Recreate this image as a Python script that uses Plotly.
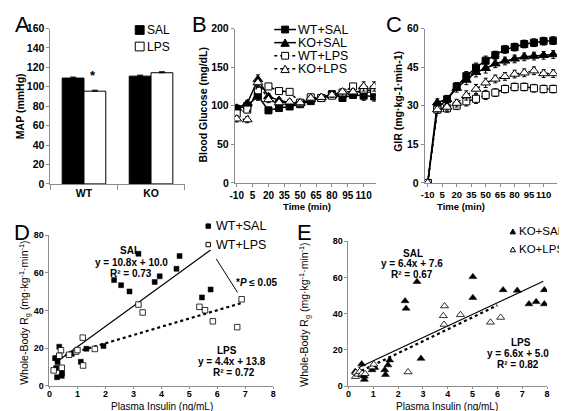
import plotly.graph_objects as go

W, H = 567, 411
FONT = "Liberation Sans"

# ---------------- Panel A : MAP ----------------
map_groups = ["WT", "KO"]
map_sal = [109.0, 111.0]
map_lps = [95.5, 114.5]
map_sal_err = [1.0, 1.0]
map_lps_err = [1.0, 1.0]

# ---------------- Panels B / C : time course ----------------
time_min = [-10, 0, 10, 20, 30, 40, 50, 60, 70, 80, 90, 100, 110, 120]
time_ticks = [-10, 5, 20, 35, 50, 65, 80, 95, 110]
time_ticktext = ["-10", "5", "20", "35", "50", "65", "80", "95", "110"]

bg_wt_sal = [96, 100, 113, 94, 97, 99, 102, 106, 110, 115, 110, 114, 113, 112]
bg_ko_sal = [97, 103, 134, 112, 107, 104, 103, 108, 111, 113, 115, 117, 120, 120]
bg_wt_lps = [90, 95, 120, 125, 119, 118, 104, 111, 110, 113, 117, 125, 121, 120]
bg_ko_lps = [83, 82, 130, 108, 104, 105, 104, 110, 111, 114, 118, 118, 125, 125]
bg_err = [4, 4, 6, 4, 3, 3, 3, 3, 3, 3, 4, 4, 6, 6]

gir_wt_sal = [0, 29.0, 32.5, 37.5, 41.5, 44.8, 47.5, 49.7, 51.9, 52.8, 54.0, 54.5, 55.1, 55.3]
gir_ko_sal = [0, 31.2, 32.5, 36.8, 40.0, 43.0, 44.5, 46.3, 47.4, 48.2, 49.0, 49.3, 49.6, 49.9]
gir_wt_lps = [0, 28.5, 29.0, 30.0, 31.7, 32.7, 34.2, 35.1, 36.5, 37.3, 37.3, 36.8, 36.5, 36.5]
gir_ko_lps = [0, 28.5, 29.5, 31.0, 34.0, 36.5, 38.9, 40.4, 41.4, 42.3, 42.8, 43.6, 42.5, 42.5]
gir_err = [0, 1.5, 1.5, 1.5, 1.8, 1.8, 1.8, 1.5, 1.5, 1.5, 1.5, 1.5, 1.5, 1.5]

# ---------------- Panel D : WT Rg vs insulin ----------------
d_wt_sal_x = [0.35, 0.20, 0.29, 0.27, 0.24, 0.27, 0.45, 0.44, 0.80, 1.12, 1.32, 1.93,
              2.31, 2.56, 2.86, 3.18, 3.76, 3.94, 4.54, 4.65, 5.45, 5.76]
d_wt_sal_y = [20.8, 14.7, 12.6, 14.8, 9.5, 4.6, 6.7, 5.3, 17.0, 12.8, 19.7, 21.2,
              56.2, 53.5, 50.2, 70.2, 55.2, 58.2, 62.2, 69.0, 47.0, 51.2]
d_wt_lps_x = [0.15, 0.41, 0.44, 0.35, 0.70, 0.95, 1.00, 1.19, 1.20, 1.62,
              3.18, 3.33, 5.36, 5.56, 5.84, 6.71, 6.87]
d_wt_lps_y = [8.2, 18.9, 9.6, 16.0, 16.5, 18.2, 19.0, 25.6, 10.8, 19.6,
              43.2, 39.0, 42.0, 40.2, 34.3, 31.2, 46.0]
d_sal_fit = [10.8, 10.0]      # slope, intercept
d_sal_fit_x = [0.2, 5.76]
d_lps_fit = [4.4, 13.8]
d_lps_fit_x = [0.15, 6.87]

# ---------------- Panel E : KO Rg vs insulin ----------------
e_ko_sal_x = [0.27, 0.40, 0.53, 0.64, 0.64, 0.95, 1.00, 1.06, 1.46, 1.49, 1.59, 1.66,
              2.28, 2.32, 2.76, 2.92, 5.01, 5.01, 6.23, 6.80, 7.27, 7.56, 7.89, 7.89]
e_ko_sal_y = [8.0, 6.3, 12.2, 5.4, 3.6, 8.9, 10.7, 10.2, 8.9, 6.3, 11.6, 14.3,
              47.0, 42.9, 57.6, 15.2, 60.3, 48.8, 53.1, 52.8, 45.3, 46.5, 45.3, 53.1]
e_ko_lps_x = [0.28, 0.30, 0.38, 0.45, 0.55, 0.67, 0.95, 1.02, 2.40,
              3.82, 3.85, 3.87, 4.51, 5.72, 6.13]
e_ko_lps_y = [5.2, 7.5, 6.5, 8.0, 7.0, 6.8, 10.5, 12.0, 7.8,
              38.8, 34.0, 44.2, 39.4, 35.2, 37.9]
e_sal_fit = [6.4, 7.6]
e_sal_fit_x = [0.4, 7.85]
e_lps_fit = [6.6, 5.0]
e_lps_fit_x = [0.3, 6.0]


def fx(p):
    return p / W


def fy(p):
    return 1 - p / H


fig = go.Figure()

# ---- A bars
fig.add_trace(go.Bar(x=map_groups, y=map_sal, name="SAL", xaxis="x", yaxis="y",
                     marker=dict(color="black", line=dict(color="black", width=1)),
                     error_y=dict(type="data", array=map_sal_err, arrayminus=[0, 0], symmetric=False,
                                  color="black", thickness=1, width=3)))
fig.add_trace(go.Bar(x=map_groups, y=map_lps, name="LPS", xaxis="x", yaxis="y",
                     marker=dict(color="white", line=dict(color="black", width=1)),
                     error_y=dict(type="data", array=map_lps_err, arrayminus=[0, 0], symmetric=False,
                                  color="black", thickness=1, width=3)))

# ---- B / C lines
series = [
    ("WT+SAL", bg_wt_sal, gir_wt_sal, "square", "black", "solid"),
    ("KO+SAL", bg_ko_sal, gir_ko_sal, "triangle-up", "black", "solid"),
    ("WT+LPS", bg_wt_lps, gir_wt_lps, "square", "white", "dot"),
    ("KO+LPS", bg_ko_lps, gir_ko_lps, "triangle-up", "white", "dot"),
]
for name, bg, gir, sym, fill, dash in series:
    msize = 7 if sym == "square" else 8.5
    fig.add_trace(go.Scatter(x=time_min, y=bg, mode="lines+markers", name=name, xaxis="x2", yaxis="y2",
                             line=dict(color="black", width=1.5, dash=dash),
                             marker=dict(symbol=sym, size=msize, color=fill, line=dict(color="black", width=1)),
                             error_y=dict(type="data", array=bg_err, color="black", thickness=1, width=2)))
    fig.add_trace(go.Scatter(x=time_min, y=gir, mode="lines+markers", name=name, xaxis="x3", yaxis="y3",
                             line=dict(color="black", width=1.5, dash=dash),
                             marker=dict(symbol=sym, size=msize, color=fill, line=dict(color="black", width=1)),
                             error_y=dict(type="data", array=gir_err, color="black", thickness=1, width=2)))

# ---- D
fig.add_trace(go.Scatter(x=d_sal_fit_x, y=[d_sal_fit[0] * v + d_sal_fit[1] for v in d_sal_fit_x],
                         mode="lines", xaxis="x4", yaxis="y4", line=dict(color="black", width=1.2)))
fig.add_trace(go.Scatter(x=d_lps_fit_x, y=[d_lps_fit[0] * v + d_lps_fit[1] for v in d_lps_fit_x],
                         mode="lines", xaxis="x4", yaxis="y4", line=dict(color="black", width=2.2, dash="dot")))
fig.add_trace(go.Scatter(x=d_wt_sal_x, y=d_wt_sal_y, mode="markers", xaxis="x4", yaxis="y4",
                         marker=dict(symbol="square", size=5, color="black", line=dict(color="black", width=0.5))))
fig.add_trace(go.Scatter(x=d_wt_lps_x, y=d_wt_lps_y, mode="markers", xaxis="x4", yaxis="y4",
                         marker=dict(symbol="square", size=5.5, color="white", line=dict(color="black", width=0.8))))

# ---- E
fig.add_trace(go.Scatter(x=e_sal_fit_x, y=[e_sal_fit[0] * v + e_sal_fit[1] for v in e_sal_fit_x],
                         mode="lines", xaxis="x5", yaxis="y5", line=dict(color="black", width=1.2)))
fig.add_trace(go.Scatter(x=e_lps_fit_x, y=[e_lps_fit[0] * v + e_lps_fit[1] for v in e_lps_fit_x],
                         mode="lines", xaxis="x5", yaxis="y5", line=dict(color="black", width=2.2, dash="dot")))
fig.add_trace(go.Scatter(x=e_ko_sal_x, y=e_ko_sal_y, mode="markers", xaxis="x5", yaxis="y5",
                         marker=dict(symbol="triangle-up", size=7, color="black", line=dict(color="black", width=0.5))))
fig.add_trace(go.Scatter(x=e_ko_lps_x, y=e_ko_lps_y, mode="markers", xaxis="x5", yaxis="y5",
                         marker=dict(symbol="triangle-up", size=7, color="white", line=dict(color="black", width=0.8))))

AXC = "#8c8c8c"


def tf(size):
    return dict(family=FONT, size=size, color="black", weight="bold")


def axis(**kw):
    d = dict(showline=True, linecolor=AXC, linewidth=1, ticks="outside", tickcolor=AXC, ticklen=4,
             showgrid=False, zeroline=False, tickangle=0, tickfont=tf(10.5))
    d.update(kw)
    return d


layout = dict(
    width=W, height=H, margin=dict(l=0, r=0, t=0, b=0), showlegend=False,
    paper_bgcolor="white", plot_bgcolor="white", barmode="group", bargap=0.35, bargroupgap=0,
    font=dict(family=FONT, color="black"),
    xaxis=axis(domain=[fx(38), fx(174)], anchor="y", type="category", tickson="boundaries", ticklen=5),
    yaxis=axis(domain=[fy(175), fy(15)], anchor="x", range=[0, 160], dtick=20, ticklen=3),
    xaxis2=axis(domain=[fx(225), fx(368)], anchor="y2", range=[-11.8, 121.5], tickvals=time_ticks,
                ticktext=time_ticktext, ticklen=3, tickfont=tf(10)),
    yaxis2=axis(domain=[fy(174), fy(15)], anchor="x2", range=[0, 200], dtick=50, ticklen=3),
    xaxis3=axis(domain=[fx(417.7), fx(551.7)], anchor="y3", range=[-13, 123.8], tickvals=time_ticks,
                ticktext=time_ticktext, ticklen=3, tickfont=tf(9.5)),
    yaxis3=axis(domain=[fy(174), fy(15)], anchor="x3", range=[0, 60], dtick=15, ticklen=3),
    xaxis4=axis(domain=[fx(37), fx(264)], anchor="y4", range=[0, 8], dtick=1, ticklen=2, tickfont=tf(9),
                ticklabelstandoff=-3),
    yaxis4=axis(domain=[fy(383), fy(228)], anchor="x4", range=[0, 80], dtick=20, ticklen=3, tickfont=tf(9)),
    xaxis5=axis(domain=[fx(340.3), fx(541.7)], anchor="y5", range=[0, 8], dtick=1, ticklen=2, tickfont=tf(9),
                ticklabelstandoff=-3),
    yaxis5=axis(domain=[fy(383.3), fy(234)], anchor="x5", range=[0, 80], dtick=20, ticklen=3, tickfont=tf(9)),
)

ann = []


def text(px, py, s, size=10.5, bold=False, xanchor="center", angle=0):
    ann.append(dict(x=fx(px), y=fy(py), xref="paper", yref="paper", text=s, showarrow=False,
                    xanchor=xanchor, yanchor="middle", textangle=angle, borderpad=0,
                    font=dict(family=FONT, size=size, color="black", weight="bold" if bold else "normal")))


# panel letters
text(1, 11, "A", size=22, xanchor="left")
text(181, 11, "B", size=22, xanchor="left")
text(377, 11, "C", size=22, xanchor="left")
text(0, 225, "D", size=22, xanchor="left")
text(287, 225, "E", size=22, xanchor="left")

# axis titles
text(7, 95, "MAP (mmHg)", bold=True, angle=-90)
text(193, 93, "Blood Glucose (mg/dL)", bold=True, angle=-90)
text(391, 90, "GIR (mg·kg-1·min-1)", bold=True, angle=-90)
text(298, 198, "Time (min)", size=9.5, bold=True)
text(454, 198, "Time (min)", size=9.5, bold=True)
text(12, 308, "Whole-Body R<sub>g</sub> (mg·kg<sup>-1</sup>·min<sup>-1</sup>)", size=10.5, angle=-90)
text(296, 310, "Whole-Body R<sub>g</sub> (mg·kg<sup>-1</sup>·min<sup>-1</sup>)", size=10.5, angle=-90)
text(151.5, 404, "Plasma Insulin (ng/mL)", size=10)
text(440, 404.5, "Plasma Insulin (ng/mL)", size=10)

# A asterisk
text(81, 63, "*", size=13, bold=True)
# C significance
text(564, 53, "*", size=14, bold=True)

# D equations
text(119, 244, "SAL", size=10, bold=True)
text(120, 256, "y = 10.8x + 10.0", size=10, bold=True)
text(120, 267, "R² = 0.73", size=10, bold=True)
text(217, 347, "LPS", size=10, bold=True)
text(222, 358, "y = 4.4x + 13.8", size=10, bold=True)
text(224, 369, "R² = 0.72", size=10, bold=True)
text(247, 277, "*<i>P</i> ≤ 0.05", size=10, bold=True)

# E equations
text(406, 247, "SAL", size=10, bold=True)
text(405, 257, "y = 6.4x + 7.6", size=10, bold=True)
text(405, 268, "R² = 0.67", size=10, bold=True)
text(515, 338, "LPS", size=10, bold=True)
text(512, 350, "y = 6.6x + 5.0", size=10, bold=True)
text(512, 361, "R² = 0.82", size=10, bold=True)

shapes = []


def sq(cx, cy, s, fill):
    shapes.append(dict(type="rect", xref="paper", yref="paper", x0=fx(cx - s / 2), x1=fx(cx + s / 2),
                       y0=fy(cy + s / 2), y1=fy(cy - s / 2), fillcolor=fill, line=dict(color="black", width=1)))


def tri(cx, cy, s, fill):
    h = s * 0.9
    p = "M {},{} L {},{} L {},{} Z".format(fx(cx - s / 2), fy(cy + h / 2), fx(cx + s / 2), fy(cy + h / 2),
                                           fx(cx), fy(cy - h / 2))
    shapes.append(dict(type="path", xref="paper", yref="paper", path=p, fillcolor=fill,
                       line=dict(color="black", width=1)))


def hline(x0, x1, y, dash="solid", width=1.5):
    shapes.append(dict(type="line", xref="paper", yref="paper", x0=fx(x0), x1=fx(x1), y0=fy(y), y1=fy(y),
                       line=dict(color="black", width=width, dash=dash)))


# A legend
sq(128.5, 16.5, 9, "black")
text(135, 16.5, "SAL", size=12, xanchor="left")
sq(128.5, 33.5, 9, "white")
text(135, 33.5, "LPS", size=12, xanchor="left")

# B legend
leg_y = [16, 29.5, 43, 56.5]
for (name, _, _, sym, fill, dash), y in zip(series, leg_y):
    hline(265, 287, y, dash=dash)
    if sym == "square":
        sq(276, y, 7, fill)
    else:
        tri(276, y, 8.5, fill)
    text(288, y, name, size=12.5, xanchor="left")

# D legend
sq(198, 218.5, 4.5, "black")
text(205, 218.5, "WT+SAL", size=12.5, xanchor="left")
sq(198, 237.5, 4.5, "white")
text(205, 237.5, "WT+LPS", size=12.5, xanchor="left")

# E legend
tri(507, 224, 5.5, "black")
text(512, 224, "KO+SAL", size=11.5, xanchor="left")
tri(507, 242.5, 5.5, "white")
text(512, 242.5, "KO+LPS", size=11.5, xanchor="left")

# C bracket
shapes.append(dict(type="path", xref="paper", yref="paper",
                   path="M {},{} L {},{} L {},{} L {},{}".format(fx(555), fy(22.7), fx(559.3), fy(22.7),
                                                                 fx(559.3), fy(80), fx(555), fy(80)),
                   line=dict(color="black", width=1)))

# D pointer line
shapes.append(dict(type="line", xref="x4", yref="y4", x0=5.96, y0=67.5, x1=6.72, y1=49.7,
                   line=dict(color="black", width=1)))

layout["annotations"] = ann
layout["shapes"] = shapes
fig.update_layout(**layout)
fig.write_html("out.html")
